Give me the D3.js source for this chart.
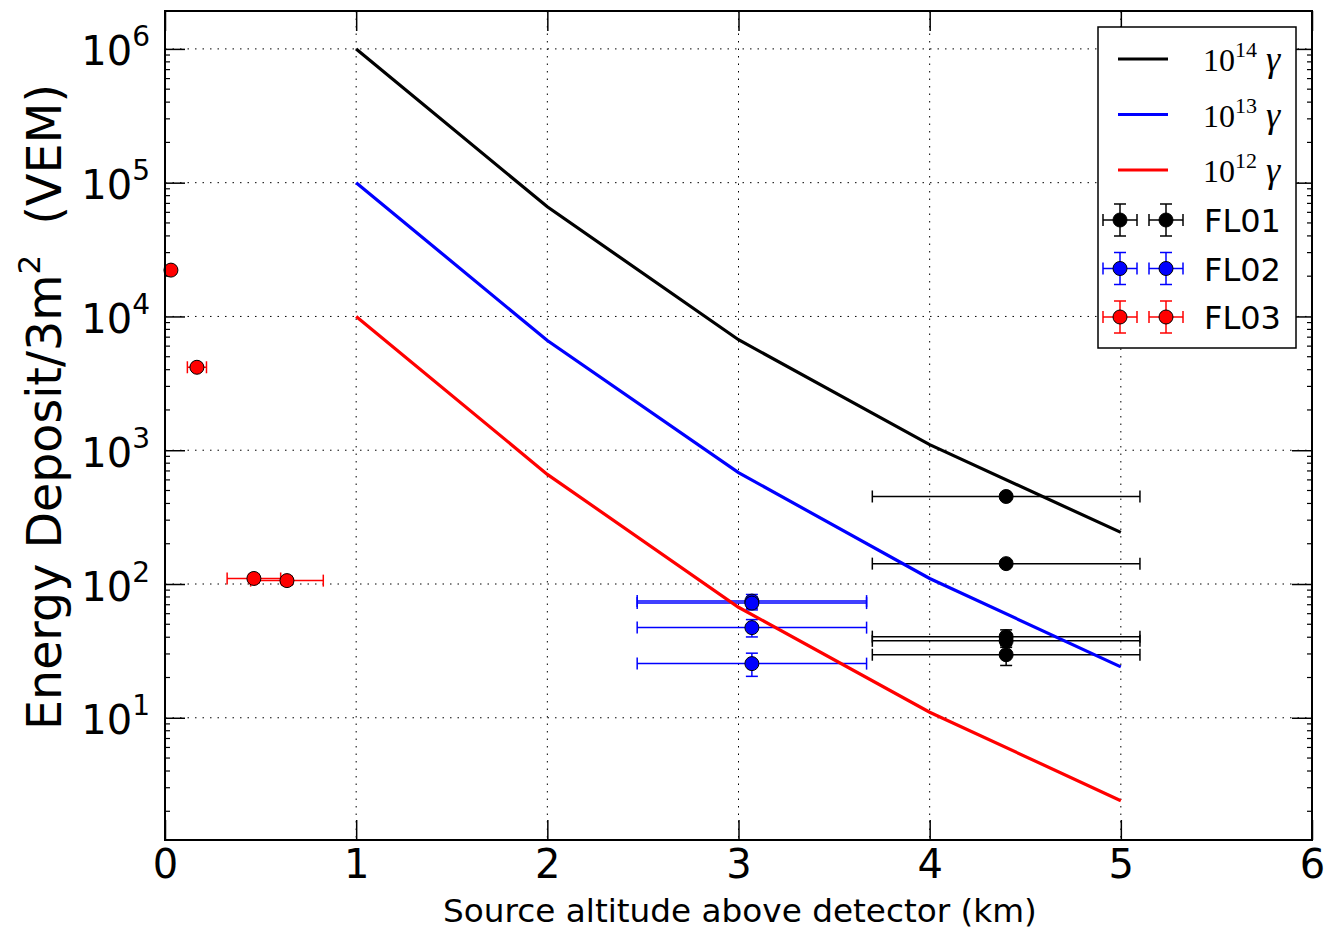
<!DOCTYPE html>
<html>
<head>
<meta charset="utf-8">
<script src="https://cdn.jsdelivr.net/npm/d3@7/dist/d3.min.js"></script>
<style>
  html, body { margin: 0; padding: 0; background: #fff; }
  svg { display: block; }
</style>
</head>
<body>
<svg id="chart" width="1344" height="934"></svg>
<script>
// ---------------- data ----------------
const altitudeKm = [1, 2, 3, 4, 5];
const gamma14 = [1.0e6, 6.6e4, 6.7e3, 1.1e3, 243];
const gamma13 = [1.0e5, 6.6e3, 680, 110, 24];
const gamma12 = [1.0e4, 660, 67, 11, 2.4];

const fl01X = [4.40, 4.40, 4.40, 4.40, 4.40];
const fl01XErr = [0.70, 0.70, 0.70, 0.70, 0.70];
const fl01Y = [451, 142, 40.4, 37.6, 29.6];
const fl01YErr = [20, 8, 5, 4, 5];

const fl02X = [3.07, 3.07, 3.07, 3.07];
const fl02XErr = [0.60, 0.60, 0.60, 0.60];
const fl02Y = [74.5, 72, 47.2, 25.4];
const fl02YErr = [9, 8, 7, 5];

const fl03X = [0.031, 0.167, 0.465, 0.638];
const fl03XErr = [0, 0.05, 0.14, 0.19];
const fl03Y = [22200, 4170, 110, 106];
const fl03YErr = [0, 0, 8, 8];

const xTicks = [0, 1, 2, 3, 4, 5, 6];
const yTickExps = [1, 2, 3, 4, 5, 6];
const xLabel = "Source altitude above detector (km)";
const curveLegend = [
  { exp: "14", color: "#000000" },
  { exp: "13", color: "#0000ff" },
  { exp: "12", color: "#ff0000" }
];
const seriesLegend = [
  { name: "FL01", color: "#000000" },
  { name: "FL02", color: "#0000ff" },
  { name: "FL03", color: "#ff0000" }
];

// ---------------- layout ----------------
const svg = d3.select("#chart");
const L = 165, T = 11, R = 1312, B = 840;
const x = d3.scaleLinear().domain([0, 6]).range([L, R]);
const y = d3.scaleLog().domain([1.22, 1.92e6]).range([B, T]);
const FONT = "'DejaVu Sans', sans-serif";

// grid
const grid = svg.append("g");
grid.selectAll("line.gx").data([1, 2, 3, 4, 5]).join("line")
  .attr("x1", d => x(d)).attr("x2", d => x(d)).attr("y1", T).attr("y2", B)
  .attr("stroke", "#000").attr("stroke-width", 1).attr("stroke-dasharray", "1.5,6");
grid.selectAll("line.gy").data(yTickExps).join("line")
  .attr("y1", d => y(Math.pow(10, d))).attr("y2", d => y(Math.pow(10, d)))
  .attr("x1", L).attr("x2", R)
  .attr("stroke", "#000").attr("stroke-width", 1).attr("stroke-dasharray", "1.5,6");

// x axis (bottom + top)
const xAxis = d3.axisBottom(x).tickValues(xTicks).tickSizeInner(-20).tickSizeOuter(0).tickPadding(10)
  .tickFormat(d3.format("d"));
const gx = svg.append("g").attr("transform", `translate(0,${B})`).call(xAxis);
gx.select(".domain").remove();
gx.selectAll("line").attr("stroke-width", 1.5);
gx.selectAll("text").attr("font-family", FONT).attr("font-size", 40).attr("fill", "#000");

const gxTop = svg.append("g").attr("transform", `translate(0,${T})`)
  .call(d3.axisTop(x).tickValues(xTicks).tickSizeInner(-20).tickSizeOuter(0).tickFormat(""));
gxTop.select(".domain").remove();
gxTop.selectAll("line").attr("stroke-width", 1.5);

// y axis (left + right)
const yMajor = yTickExps.map(e => Math.pow(10, e));
const yAxis = d3.axisLeft(y).tickValues(yMajor).tickSizeInner(-20).tickSizeOuter(0).tickFormat("");
const gy = svg.append("g").attr("transform", `translate(${L},0)`).call(yAxis);
gy.select(".domain").remove();
gy.selectAll("line").attr("stroke-width", 1.5);
const gyLab = gy.selectAll("g.tick").data(yTickExps).append("text")
  .attr("x", -15).attr("dy", 16).attr("text-anchor", "end")
  .attr("font-family", FONT).attr("fill", "#000");
gyLab.append("tspan").attr("font-size", 40).text("10");
gyLab.append("tspan").attr("font-size", 28).attr("dy", -19).text(d => d);

const gyR = svg.append("g").attr("transform", `translate(${R},0)`)
  .call(d3.axisRight(y).tickValues(yMajor).tickSizeInner(-20).tickSizeOuter(0).tickFormat(""));
gyR.select(".domain").remove();
gyR.selectAll("line").attr("stroke-width", 1.5);

// minor y ticks
const minor = [];
for (let e = 0; e <= 6; e++) for (let m = 2; m <= 9; m++) {
  const v = m * Math.pow(10, e);
  if (v > y.domain()[0] && v < y.domain()[1]) minor.push(v);
}
svg.append("g").selectAll("line").data(minor).join("line")
  .attr("x1", L).attr("x2", L + 5).attr("y1", d => y(d)).attr("y2", d => y(d))
  .attr("stroke", "#000").attr("stroke-width", 1.2);
svg.append("g").selectAll("line").data(minor).join("line")
  .attr("x1", R).attr("x2", R - 5).attr("y1", d => y(d)).attr("y2", d => y(d))
  .attr("stroke", "#000").attr("stroke-width", 1.2);

// ---------------- data marks ----------------
function errorSeries(xs, xe, ys, ye, color) {
  const g = svg.append("g");
  const pts = xs.map((v, i) => ({ x: v, xe: xe[i], y: ys[i], ye: ye[i] }));
  pts.forEach(p => {
    const cy = y(p.y), cx = x(p.x);
    if (p.xe > 0) {
      const x0 = x(p.x - p.xe), x1 = x(p.x + p.xe);
      g.append("line").attr("x1", x0).attr("x2", x1).attr("y1", cy).attr("y2", cy)
        .attr("stroke", color).attr("stroke-width", 1.5);
      [x0, x1].forEach(xx => g.append("line").attr("x1", xx).attr("x2", xx)
        .attr("y1", cy - 6).attr("y2", cy + 6).attr("stroke", color).attr("stroke-width", 1.5));
    }
    if (p.ye > 0) {
      const y0 = y(p.y - p.ye), y1 = y(p.y + p.ye);
      g.append("line").attr("x1", cx).attr("x2", cx).attr("y1", y0).attr("y2", y1)
        .attr("stroke", color).attr("stroke-width", 1.5);
      [y0, y1].forEach(yy => g.append("line").attr("x1", cx - 6).attr("x2", cx + 6)
        .attr("y1", yy).attr("y2", yy).attr("stroke", color).attr("stroke-width", 1.5));
    }
  });
  g.selectAll("circle").data(pts).join("circle")
    .attr("cx", d => x(d.x)).attr("cy", d => y(d.y)).attr("r", 7)
    .attr("fill", color).attr("stroke", "#000").attr("stroke-width", 1);
}
errorSeries(fl01X, fl01XErr, fl01Y, fl01YErr, "#000000");
errorSeries(fl02X, fl02XErr, fl02Y, fl02YErr, "#0000ff");
errorSeries(fl03X, fl03XErr, fl03Y, fl03YErr, "#ff0000");

const line = d3.line().x(d => x(d[0])).y(d => y(d[1]));
[[gamma14, "#000000"], [gamma13, "#0000ff"], [gamma12, "#ff0000"]].forEach(([vals, c]) => {
  svg.append("path").datum(altitudeKm.map((a, i) => [a, vals[i]]))
    .attr("d", line).attr("fill", "none").attr("stroke", c).attr("stroke-width", 3.2);
});

// frame
svg.append("rect").attr("x", L).attr("y", T).attr("width", R - L).attr("height", B - T)
  .attr("fill", "none").attr("stroke", "#000").attr("stroke-width", 2);

// ---------------- legend ----------------
const lg = svg.append("g");
lg.append("rect").attr("x", 1098).attr("y", 27).attr("width", 198).attr("height", 321)
  .attr("fill", "#fff").attr("stroke", "#000").attr("stroke-width", 1.5);
curveLegend.forEach((c, i) => {
  const yy = 59 + i * 55.5;
  lg.append("line").attr("x1", 1118).attr("x2", 1168).attr("y1", yy).attr("y2", yy)
    .attr("stroke", c.color).attr("stroke-width", 3.2);
  const t = lg.append("text").attr("x", 1203).attr("y", yy + 12)
    .attr("font-family", "'Liberation Serif', serif").attr("fill", "#000");
  t.append("tspan").attr("font-size", 32).text("10");
  t.append("tspan").attr("font-size", 22).attr("dy", -14).text(c.exp);
  t.append("tspan").attr("font-size", 36).attr("dy", 14).attr("dx", 9)
    .attr("font-style", "italic").text("γ");
});
seriesLegend.forEach((s, i) => {
  const yy = 220 + i * 48.5;
  [1120, 1166].forEach(cx => {
    lg.append("line").attr("x1", cx - 17).attr("x2", cx + 17).attr("y1", yy).attr("y2", yy)
      .attr("stroke", s.color).attr("stroke-width", 1.5);
    lg.append("line").attr("x1", cx).attr("x2", cx).attr("y1", yy - 16).attr("y2", yy + 16)
      .attr("stroke", s.color).attr("stroke-width", 1.5);
    [-17, 17].forEach(dx => lg.append("line").attr("x1", cx + dx).attr("x2", cx + dx)
      .attr("y1", yy - 6).attr("y2", yy + 6).attr("stroke", s.color).attr("stroke-width", 1.5));
    [-16, 16].forEach(dy => lg.append("line").attr("x1", cx - 6).attr("x2", cx + 6)
      .attr("y1", yy + dy).attr("y2", yy + dy).attr("stroke", s.color).attr("stroke-width", 1.5));
    lg.append("circle").attr("cx", cx).attr("cy", yy).attr("r", 7)
      .attr("fill", s.color).attr("stroke", "#000").attr("stroke-width", 1);
  });
  lg.append("text").attr("x", 1204).attr("y", yy + 12).attr("font-family", FONT)
    .attr("font-size", 32).attr("fill", "#000").text(s.name);
});

// ---------------- axis titles ----------------
svg.append("text").attr("x", 740).attr("y", 922).attr("text-anchor", "middle")
  .attr("font-family", FONT).attr("font-size", 32.7).attr("fill", "#000").text(xLabel);

const yl = svg.append("text").attr("transform", "translate(61,407) rotate(-90)")
  .attr("text-anchor", "middle").attr("font-family", FONT).attr("font-size", 47.5).attr("fill", "#000");
yl.append("tspan").text("Energy Deposit/3m");
yl.append("tspan").attr("font-size", 31).attr("dy", -21).text("2");
yl.append("tspan").attr("dy", 21).attr("xml:space", "preserve").text("\u00a0\u00a0(VEM)");
</script>
</body>
</html>
